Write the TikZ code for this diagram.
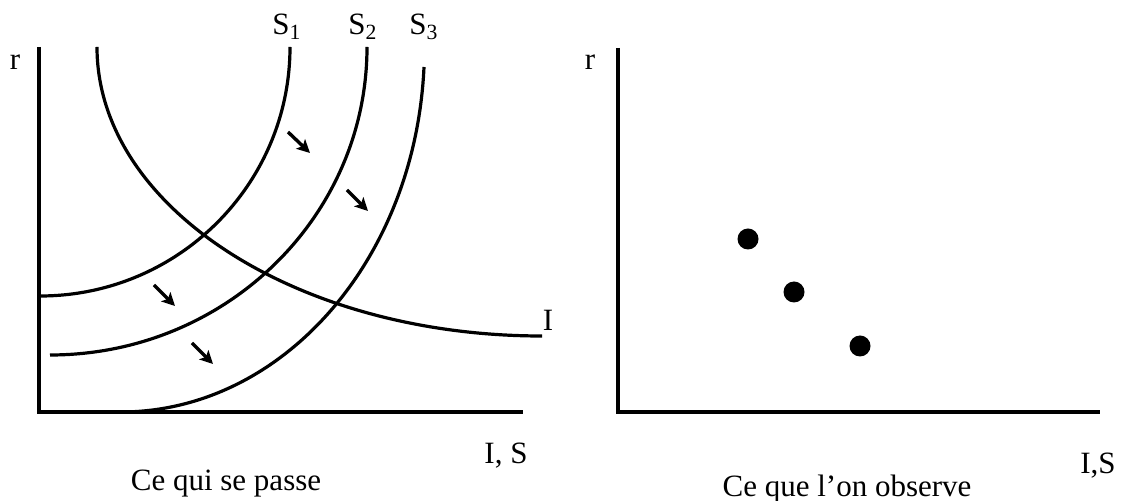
\documentclass[tikz,border=0pt]{standalone}
\usepackage{fontspec}
\setmainfont{Liberation Serif}
\usetikzlibrary{arrows.meta}

\begin{document}
\begin{tikzpicture}[x=0.5pt, y=-0.5pt,
  graphline/.style={line width=1.6pt},
  drift/.style={line width=1.7pt, -{Stealth[length=6.5pt, width=6.5pt, inset=1.5pt]}},
  lbl/.style={font=\fontsize{15.5}{18}\selectfont, inner sep=0pt},
  obs/.style={circle, fill=black, minimum size=10.5pt, inner sep=0pt}]
\useasboundingbox (0,0) rectangle (1124,501);
\draw[graphline] (39,47) -- (39,412) -- (523,412);
\draw[graphline] (290,47) arc[start angle=0, end angle=90, x radius=250, y radius=249];
\draw[graphline] (367,47) arc[start angle=0, end angle=90, x radius=317, y radius=308];
\draw[graphline] (424,67) arc[start angle=3.14, end angle=90, x radius=304, y radius=365];
\draw[graphline] (97,47) arc[start angle=180, end angle=90, x radius=445, y radius=289];
\coordinate (m1a) at (288,132);
\coordinate (m1b) at (310,153);
\coordinate (m2a) at (347,190);
\coordinate (m2b) at (368,211);
\coordinate (m3a) at (154,285);
\coordinate (m3b) at (175,306);
\coordinate (m4a) at (192,343);
\coordinate (m4b) at (213,364);
\draw[drift] (m1a) -- (m1b);
\draw[drift] (m2a) -- (m2b);
\draw[drift] (m3a) -- (m3b);
\draw[drift] (m4a) -- (m4b);
\node[lbl] (rleft) at (15,62) {r};
\node[lbl, anchor=base] (s1) at (287,35) {S\textsubscript{1}};
\node[lbl, anchor=base] (s2) at (363,35) {S\textsubscript{2}};
\node[lbl, anchor=base] (s3) at (424,35) {S\textsubscript{3}};
\node[lbl] (ilabel) at (548,320) {I};
\node[lbl] (xleft) at (506,456) {I, S};
\node[lbl] (capleft) at (226,484) {Ce qui se passe};
\draw[graphline] (618,48) -- (618,412) -- (1100,412);
\node[obs] (p1) at (748,239) {};
\node[obs] (p2) at (794,292) {};
\node[obs] (p3) at (860,346) {};
\node[lbl] (rright) at (590,62) {r};
\node[lbl] (xright) at (1098,466) {I,S};
\node[lbl] (capright) at (847,489) {Ce que l’on observe};
\end{tikzpicture}
\end{document}
